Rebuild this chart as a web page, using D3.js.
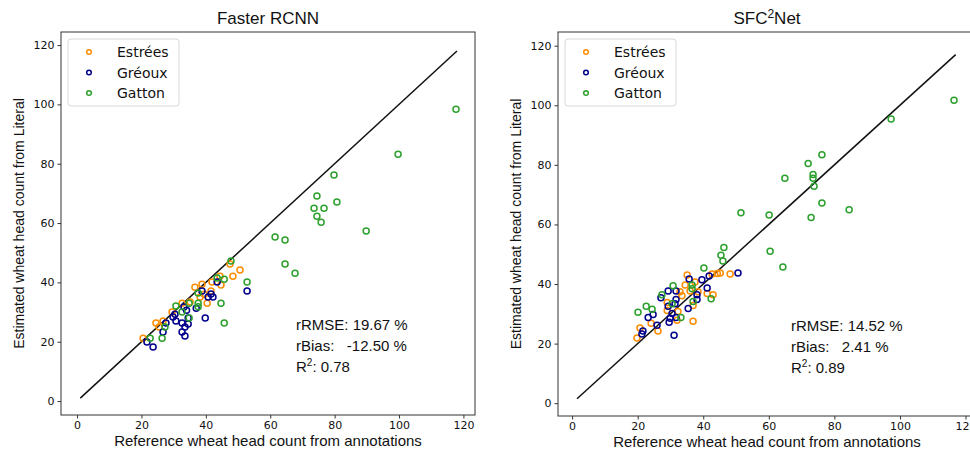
<!DOCTYPE html>
<html lang="en">
<head>
<meta charset="utf-8">
<title>Wheat head counts</title>
<script src="https://d3js.org/d3.v7.min.js"></script>
<style>
  body { margin: 0; background: #fff; }
  svg text { fill: #111; }
</style>
</head>
<body>
<svg width="970" height="450"></svg>
<script>
// [reference, estimated] pairs
var frcnnEstrees = [[47.5,46.2],[50.6,44.2],[48.4,42.1],[44.4,42.1],[41.9,40.1],[44.7,39.1],[38.8,39.4],[36.6,38.4],[41.6,37.1],[38.2,35.1],[40.4,33.0],[32.6,33.0],[35.1,33.4],[29.5,30.0],[24.5,26.3],[26.7,27.0],[25.5,25.0],[20.5,21.2],[39.5,36.0]];
var frcnnGreoux = [[52.8,37.1],[43.5,40.1],[38.8,37.1],[41.6,36.1],[40.7,35.1],[42.2,35.1],[37.0,31.3],[33.2,31.7],[34.0,30.6],[30.4,29.3],[29.8,28.3],[34.5,28.0],[30.7,27.0],[39.8,28.0],[32.6,26.3],[34.5,26.0],[33.5,25.0],[27.6,26.3],[26.7,23.3],[32.6,23.3],[33.5,21.9],[21.7,19.9],[23.6,18.2]];
var frcnnGatton = [[117.7,98.4],[99.7,83.2],[79.8,76.2],[74.5,69.1],[80.7,67.1],[73.6,65.0],[76.7,65.0],[74.5,62.3],[75.8,60.3],[89.8,57.3],[61.5,55.3],[64.6,54.3],[64.6,46.2],[67.7,43.1],[52.8,40.1],[47.8,47.2],[45.7,41.1],[43.5,41.5],[37.6,36.4],[37.6,33.0],[37.6,31.8],[34.8,33.0],[30.7,32.0],[32.6,30.0],[34.8,28.0],[44.7,33.0],[45.7,26.3],[27.3,25.0],[22.7,21.2],[26.4,21.2]];

var sfcEstrees = [[48.2,43.4],[45.2,43.7],[44.3,43.5],[42.7,43.4],[35.1,43.0],[37.5,40.7],[34.5,39.7],[36.0,37.7],[32.9,37.4],[33.5,36.1],[38.4,37.4],[41.2,36.8],[43.0,36.4],[36.9,32.8],[29.0,33.8],[29.0,31.1],[32.3,30.8],[32.0,27.8],[24.1,26.8],[26.2,24.2],[20.7,25.2],[19.8,21.9],[36.9,27.5]];
var sfcGreoux = [[50.6,43.7],[41.8,42.7],[39.6,41.4],[35.7,41.7],[41.2,38.7],[29.3,37.7],[31.7,37.7],[27.1,35.4],[38.1,36.4],[38.1,34.8],[31.7,34.8],[31.4,33.4],[29.3,32.5],[35.4,31.8],[30.5,30.1],[31.7,28.8],[29.9,28.5],[24.7,29.8],[23.2,28.8],[29.6,27.2],[25.9,26.2],[21.6,24.2],[21.3,23.2],[31.1,22.8]];
var sfcGatton = [[116.5,101.7],[97.3,95.4],[76.2,83.4],[72.0,80.5],[73.5,76.8],[73.5,75.5],[73.8,72.8],[64.9,75.5],[76.2,67.2],[84.5,64.9],[72.9,62.3],[51.5,63.9],[60.1,63.2],[60.4,51.0],[64.3,45.7],[46.3,52.3],[45.4,49.7],[46.0,47.7],[40.2,45.4],[30.8,39.4],[36.6,39.7],[36.6,38.4],[27.4,36.4],[42.4,35.1],[36.9,34.1],[30.5,33.4],[22.6,32.5],[24.4,31.5],[20.1,30.5],[33.2,28.8]];

var siteNames = ["Estrées", "Gréoux", "Gatton"];
var siteColors = ["#ff8c00", "#00008b", "#2ca02c"];
var ticks = [0, 20, 40, 60, 80, 100, 120];
var frcnnLine = [1, 118];
var sfcLine = [1.5, 117];
var frcnnStats = ["rRMSE: 19.67 %", "rBias:   -12.50 %", "0.78"];
var sfcStats = ["rRMSE: 14.52 %", "rBias:   2.41 %", "0.89"];

var svg = d3.select("svg");

function panel(opt) {
  var x = d3.scaleLinear().domain(opt.xdom).range([opt.left, opt.right]);
  var y = d3.scaleLinear().domain(opt.ydom).range([opt.bottom, opt.top]);
  var g = svg.append("g");

  // axes
  var xa = g.append("g").attr("transform", "translate(0," + opt.bottom + ")")
    .call(d3.axisBottom(x).tickValues(ticks).tickSize(3.5).tickPadding(3));
  var ya = g.append("g").attr("transform", "translate(" + opt.left + ",0)")
    .call(d3.axisLeft(y).tickValues(ticks).tickSize(3.5).tickPadding(3));
  [xa, ya].forEach(function(a) {
    a.select(".domain").remove();
    a.selectAll(".tick line").attr("stroke", "#333");
    a.selectAll("text").attr("font-family", "DejaVu Sans").attr("font-size", "11px").attr("fill", "#222");
  });

  // identity line
  g.append("line")
    .attr("x1", x(opt.line[0])).attr("y1", y(opt.line[0]))
    .attr("x2", x(opt.line[1])).attr("y2", y(opt.line[1]))
    .attr("stroke", "#111").attr("stroke-width", 1.5);

  // points
  opt.series.forEach(function(s, i) {
    g.append("g").selectAll("circle")
      .data(s).enter().append("circle")
      .attr("cx", function(d) { return x(d[0]); })
      .attr("cy", function(d) { return y(d[1]); })
      .attr("r", 3)
      .attr("fill", "none")
      .attr("stroke", siteColors[i])
      .attr("stroke-width", 1.5);
  });

  // frame
  g.append("rect")
    .attr("x", opt.left).attr("y", opt.top)
    .attr("width", opt.right - opt.left).attr("height", opt.bottom - opt.top)
    .attr("fill", "none").attr("stroke", "#333").attr("stroke-width", 1);

  // title
  var t = g.append("text")
    .attr("x", (opt.left + opt.right) / 2).attr("y", opt.top - 8)
    .attr("text-anchor", "middle")
    .attr("font-family", "Liberation Sans").attr("font-size", "17px");
  t.append("tspan").text(opt.title[0]);
  if (opt.title[1]) {
    t.append("tspan").attr("dy", -6).attr("font-size", "12px").text(opt.title[1]);
    t.append("tspan").attr("dy", 6).text(opt.title[2]);
  }

  // axis labels
  g.append("text")
    .attr("x", (opt.left + opt.right) / 2).attr("y", opt.bottom + 31)
    .attr("text-anchor", "middle")
    .attr("font-family", "Liberation Sans").attr("font-size", "15px")
    .text("Reference wheat head count from annotations");
  g.append("text")
    .attr("transform", "translate(" + (opt.left - 37) + "," + ((opt.top + opt.bottom) / 2) + ") rotate(-90)")
    .attr("text-anchor", "middle")
    .attr("font-family", "Liberation Sans").attr("font-size", "14px")
    .text("Estimated wheat head count from Literal");

  // stats
  var st = g.append("g").attr("font-family", "Liberation Sans").attr("font-size", "15px");
  st.append("text").attr("x", opt.statX).attr("y", opt.statY).text(opt.stats[0]);
  st.append("text").attr("x", opt.statX).attr("y", opt.statY + 21)
    .style("white-space", "pre").text(opt.stats[1]);
  var r2 = st.append("text").attr("x", opt.statX).attr("y", opt.statY + 42);
  r2.append("tspan").text("R");
  r2.append("tspan").attr("dy", -6).attr("font-size", "10px").text("2");
  r2.append("tspan").attr("dy", 6).text(": " + opt.stats[2]);

  // legend
  var lx = opt.left + 7, ly = opt.top + 7;
  var lg = g.append("g");
  lg.append("rect")
    .attr("x", lx).attr("y", ly).attr("width", 111).attr("height", 67)
    .attr("rx", 3).attr("fill", "#fff").attr("fill-opacity", 0.9)
    .attr("stroke", "#d8d8d8");
  siteNames.forEach(function(n, i) {
    lg.append("circle")
      .attr("cx", lx + 21).attr("cy", ly + 13 + i * 20.5).attr("r", 2.3)
      .attr("fill", "none").attr("stroke", siteColors[i]).attr("stroke-width", 1.5);
    lg.append("text")
      .attr("x", lx + 49).attr("y", ly + 18 + i * 20.5)
      .attr("font-family", "DejaVu Sans").attr("font-size", "14px")
      .text(n);
  });
}

panel({
  left: 61, right: 475, top: 32, bottom: 415,
  xdom: [-5, 123.6], ydom: [-4.7, 124.4],
  title: ["Faster RCNN"],
  line: frcnnLine,
  series: [frcnnEstrees, frcnnGreoux, frcnnGatton],
  stats: frcnnStats, statX: 296, statY: 330
});

panel({
  left: 558, right: 976, top: 32, bottom: 416,
  xdom: [-4.3, 123.2], ydom: [-4.3, 124.6],
  title: ["SFC", "2", "Net"],
  line: sfcLine,
  series: [sfcEstrees, sfcGreoux, sfcGatton],
  stats: sfcStats, statX: 791, statY: 331
});
</script>
</body>
</html>
